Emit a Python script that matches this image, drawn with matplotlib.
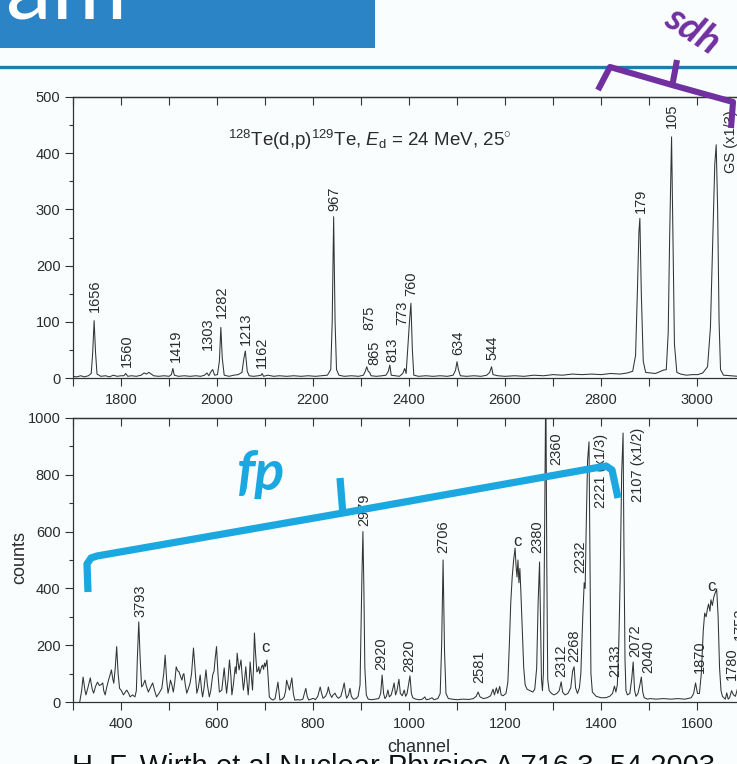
import matplotlib
matplotlib.use("Agg")
import matplotlib.pyplot as plt
from matplotlib.ticker import MultipleLocator, FixedLocator, NullFormatter
from matplotlib.lines import Line2D
from matplotlib.patches import Rectangle

plt.rcParams['font.family'] = ['Liberation Sans', 'DejaVu Sans']
plt.rcParams['mathtext.fontset'] = 'custom'
plt.rcParams['mathtext.rm'] = 'Liberation Sans'
plt.rcParams['mathtext.it'] = 'Liberation Sans:italic'
plt.rcParams['mathtext.bf'] = 'Liberation Sans:bold'

# ---------------- spectrum data: 128Te(d,p)129Te, high-channel part ----------------
top_channel = [1700, 1708, 1716, 1724, 1732, 1738, 1741, 1744, 1747, 1750, 1758, 1768, 1776, 1784,
               1792, 1800, 1806, 1810, 1814, 1822, 1832, 1842, 1848, 1853, 1858, 1863, 1868, 1878,
               1890, 1900, 1905, 1908, 1911, 1920, 1932, 1944, 1956, 1966, 1974, 1979, 1983, 1988,
               1991, 1995, 2001, 2005, 2008, 2011, 2015, 2025, 2035, 2044, 2052, 2056, 2059, 2063,
               2067, 2076, 2086, 2092, 2094, 2097, 2106, 2118, 2130, 2145, 2160, 2175, 2190, 2205,
               2218, 2230, 2237, 2240, 2243, 2246, 2249, 2254, 2265, 2280, 2295, 2305, 2309, 2312,
               2315, 2318, 2321, 2332, 2344, 2352, 2357, 2360, 2363, 2372, 2380, 2387, 2391, 2394,
               2398, 2401, 2404, 2407, 2410, 2420, 2435, 2450, 2465, 2480, 2492, 2497, 2500, 2503,
               2507, 2520, 2535, 2550, 2562, 2568, 2572, 2575, 2585, 2600, 2620, 2640, 2660, 2680,
               2700, 2720, 2740, 2760, 2780, 2800, 2820, 2840, 2855, 2866, 2872, 2876, 2879, 2881,
               2884, 2888, 2893, 2903, 2913, 2922, 2930, 2936, 2940, 2943, 2947, 2950, 2953, 2958,
               2966, 2978, 2990, 3002, 3012, 3022, 3028, 3033, 3037, 3040, 3043, 3046, 3049, 3055,
               3070, 3085, 3100]
top_counts = [3, 2, 4, 2, 4, 8, 45, 102, 45, 7, 3, 4, 2, 5,
              3, 4, 4, 8, 3, 4, 3, 5, 9, 7, 10, 7, 4, 3,
              4, 3, 6, 17, 5, 3, 4, 3, 4, 3, 5, 9, 4, 12,
              15, 5, 6, 30, 90, 35, 5, 3, 5, 6, 10, 35, 48, 12,
              4, 3, 4, 5, 8, 3, 5, 3, 4, 3, 4, 3, 4, 3,
              4, 5, 15, 100, 287, 100, 15, 5, 3, 4, 3, 5, 12, 20,
              12, 10, 4, 3, 4, 5, 12, 23, 5, 4, 3, 8, 17, 8,
              60, 100, 133, 50, 5, 3, 4, 3, 4, 3, 5, 14, 29, 15,
              4, 3, 4, 3, 5, 10, 20, 6, 4, 3, 4, 3, 5, 4,
              6, 5, 7, 6, 7, 6, 8, 7, 9, 12, 40, 160, 260, 284,
              150, 30, 10, 9, 8, 11, 14, 15, 80, 250, 429, 250, 60, 10,
              7, 5, 6, 6, 9, 20, 90, 250, 380, 415, 300, 100, 15, 5,
              4, 3, 4]

# level labels (keV) of the upper panel: channel, height of label foot
top_labels = ['1656', '1560', '1419', '1303', '1282', '1213', '1162', '967', '875', '865',
              '813', '773', '760', '634', '544', '179', '105', 'GS (x1/3)']
top_label_channel = [1746, 1812, 1915, 1981, 2010, 2060, 2094, 2244, 2317, 2327,
                     2365, 2385, 2404, 2502, 2573, 2883, 2948, 3071]
top_label_counts = [117, 20, 28, 50, 107, 59, 18, 298, 85, 23,
                    28, 94, 146, 41, 32, 293, 445, 365]

# ---------------- spectrum data: low-channel part ----------------
bottom_channel = [314, 318, 321, 325, 327, 331, 336, 340, 343, 347, 351, 355, 359, 362, 364, 367,
                  370, 374, 378, 380, 383, 385, 388, 391, 394, 397, 401, 405, 409, 412, 416, 419,
                  424, 429, 432, 434, 437, 440, 443, 446, 450, 453, 457, 461, 466, 470, 474, 479,
                  485, 489, 492, 495, 498, 501, 503, 506, 509, 512, 515, 518, 521, 524, 527, 529,
                  531, 534, 537, 540, 544, 547, 551, 554, 558, 561, 565, 568, 570, 573, 577, 580,
                  584, 587, 591, 594, 596, 599, 602, 605, 607, 610, 613, 615, 617, 620, 623, 626,
                  629, 631, 634, 638, 640, 642, 644, 646, 648, 650, 652, 655, 657, 660, 662, 665,
                  667, 669, 671, 674, 676, 678, 680, 683, 685, 687, 689, 691, 693, 695, 697, 699,
                  701, 704, 706, 709, 713, 717, 721, 724, 727, 730, 731, 736, 740, 743, 745, 748,
                  751, 753, 756, 759, 762, 768, 773, 779, 782, 785, 788, 791, 796, 801, 805, 810,
                  813, 815, 818, 821, 826, 830, 832, 835, 839, 842, 846, 849, 853, 858, 862, 865,
                  868, 870, 874, 877, 880, 884, 890, 894, 898, 900, 902, 904, 906, 908, 911, 915,
                  922, 930, 937, 941, 944, 947, 950, 953, 956, 959, 963, 966, 969, 972, 975, 979,
                  982, 986, 990, 993, 996, 999, 1002, 1005, 1008, 1014, 1022, 1028, 1033, 1036, 1042, 1048,
                  1052, 1060, 1065, 1068, 1071, 1074, 1077, 1082, 1090, 1100, 1112, 1125, 1134, 1140, 1144, 1148,
                  1155, 1163, 1170, 1175, 1178, 1182, 1185, 1189, 1192, 1196, 1202, 1206, 1209, 1212, 1215, 1218,
                  1221, 1223, 1225, 1227, 1229, 1231, 1233, 1236, 1239, 1242, 1246, 1252, 1258, 1262, 1266, 1269,
                  1272, 1274, 1276, 1278, 1280, 1283, 1285, 1287, 1289, 1292, 1297, 1302, 1308, 1313, 1317, 1320,
                  1325, 1331, 1337, 1341, 1344, 1347, 1351, 1355, 1358, 1362, 1365, 1367, 1369, 1372, 1375, 1377,
                  1379, 1382, 1390, 1400, 1410, 1418, 1424, 1428, 1431, 1434, 1437, 1440, 1443, 1446, 1448, 1450,
                  1452, 1455, 1460, 1464, 1467, 1470, 1473, 1477, 1481, 1484, 1487, 1490, 1494, 1497, 1502, 1515,
                  1530, 1545, 1560, 1575, 1588, 1593, 1597, 1601, 1605, 1609, 1613, 1616, 1619, 1622, 1624, 1627,
                  1629, 1632, 1635, 1638, 1641, 1644, 1647, 1650, 1653, 1656, 1659, 1662, 1665, 1668, 1672, 1676,
                  1680, 1684, 1688, 1692, 1696, 1700]
bottom_counts = [0, 40, 88, 40, 25, 50, 85, 45, 31, 55, 70, 58, 62, 67, 40, 25,
                 50, 77, 100, 113, 80, 66, 120, 195, 100, 48, 40, 25, 35, 42, 30, 18,
                 25, 18, 40, 150, 282, 150, 53, 60, 77, 55, 35, 50, 67, 40, 18, 30,
                 48, 100, 165, 80, 31, 55, 77, 60, 35, 70, 124, 110, 106, 90, 77, 95,
                 100, 60, 31, 45, 67, 100, 190, 120, 31, 50, 95, 40, 18, 50, 113, 60,
                 18, 40, 95, 110, 150, 195, 100, 35, 38, 42, 90, 120, 80, 31, 80, 148,
                 90, 25, 60, 124, 100, 172, 140, 113, 130, 148, 100, 42, 70, 124, 80, 25,
                 70, 141, 100, 42, 120, 243, 180, 106, 110, 124, 100, 113, 125, 130, 115, 137,
                 125, 148, 100, 18, 10, 7, 12, 40, 70, 20, 7, 10, 18, 40, 77, 60,
                 42, 60, 85, 30, 7, 8, 7, 10, 30, 48, 20, 7, 10, 13, 8, 20,
                 40, 53, 30, 13, 20, 35, 53, 30, 16, 25, 31, 20, 13, 20, 45, 67,
                 30, 13, 25, 48, 20, 10, 12, 20, 60, 250, 450, 600, 400, 120, 25, 10,
                 8, 10, 12, 30, 95, 30, 12, 20, 42, 18, 25, 45, 67, 25, 40, 80,
                 30, 22, 42, 20, 30, 60, 92, 30, 15, 10, 8, 10, 18, 8, 10, 15,
                 8, 12, 30, 200, 500, 180, 30, 12, 10, 8, 10, 9, 12, 20, 35, 18,
                 12, 15, 22, 45, 25, 50, 30, 55, 25, 22, 30, 70, 200, 350, 440, 500,
                 542, 480, 440, 500, 420, 470, 390, 260, 120, 60, 45, 40, 35, 45, 120, 350,
                 493, 280, 80, 40, 100, 700, 1150, 500, 80, 40, 30, 25, 30, 40, 71, 35,
                 25, 30, 50, 110, 124, 50, 30, 50, 100, 300, 420, 400, 600, 850, 916, 500,
                 100, 35, 20, 15, 15, 20, 30, 56, 35, 60, 200, 440, 800, 947, 500, 150,
                 40, 25, 30, 80, 141, 40, 20, 30, 60, 88, 35, 15, 12, 10, 12, 10,
                 12, 10, 12, 10, 15, 30, 67, 30, 30, 100, 250, 313, 300, 330, 345, 320,
                 360, 340, 370, 385, 398, 300, 120, 40, 20, 15, 10, 32, 10, 15, 40, 25,
                 20, 45, 60, 30, 25, 20]

bottom_labels = ['3793', 'c', '2979', '2920', '2820', '2706', '2581', 'c', '2380', '2360',
                 '2312', '2268', '2232', '2221 (x1/3)', '2133', '2107 (x1/2)', '2072', '2040',
                 '1870', 'c', '1780', '1753']
bottom_label_channel = [440, 700, 906, 942, 1000, 1071, 1146, 1225, 1267, 1306,
                        1317, 1344, 1356, 1400, 1429, 1477, 1471, 1499,
                        1606, 1631, 1673, 1690]
bottom_label_counts = [300, 165, 620, 113, 106, 524, 67, 540, 524, 834,
                       88, 141, 454, 683, 88, 704, 158, 102,
                       102, 380, 77, 220]
rotated_label = [lab != 'c' for lab in bottom_labels]

reaction_text = r'$^{128}$Te(d,p)$^{129}$Te, $E_{\rm d}$ = 24 MeV, 25$^{\circ}$'
citation = 'H. F. Wirth et al Nuclear Physics A 716 3, 54 2003'

# ---------------- figure ----------------
W, H = 737, 764
fig = plt.figure(figsize=(W / 100, H / 100), dpi=100, facecolor='#f9fdfd')


def fx(px):
    return px / W


def fy(py):
    return 1 - py / H


INK = '#2b2b2b'
LINE = '#333333'


def style_axes(ax, xlim, ylim, xmajor, ymajor, yminor):
    ax.set_facecolor('none')
    ax.set_xlim(*xlim)
    ax.set_ylim(*ylim)
    ax.xaxis.set_major_locator(FixedLocator(xmajor))
    ax.xaxis.set_minor_locator(MultipleLocator(100))
    ax.yaxis.set_major_locator(MultipleLocator(ymajor))
    ax.yaxis.set_minor_locator(MultipleLocator(yminor))
    for side in ('left', 'bottom', 'top'):
        ax.spines[side].set_color(LINE)
        ax.spines[side].set_linewidth(0.9)
    ax.spines['right'].set_visible(False)
    ax.tick_params(axis='both', which='both', direction='out', colors=LINE,
                   labelcolor=INK, labelsize=10.5, width=0.8)
    ax.tick_params(axis='x', which='major', length=6, pad=5)
    ax.tick_params(axis='x', which='minor', length=6)
    ax.tick_params(axis='y', which='major', length=6, pad=3)
    ax.tick_params(axis='y', which='minor', length=3)
    sec = ax.secondary_xaxis('top')
    sec.xaxis.set_major_locator(MultipleLocator(100))
    sec.xaxis.set_major_formatter(NullFormatter())
    sec.tick_params(direction='in', length=6, width=0.8, colors=LINE)
    sec.spines['top'].set_color(LINE)
    sec.spines['top'].set_linewidth(0.9)


# px per channel = 0.48 in both panels; axes run past the right edge of the canvas
left = fx(73)
width = (3100 - 1700) * 0.48 / W

ax_top = fig.add_axes([left, fy(378), width, (378 - 97) / H])
style_axes(ax_top, (1700, 3100), (0, 500), range(1800, 3001, 200), 100, 50)
ax_top.plot(top_channel, top_counts, color=LINE, lw=0.75)
for lab, c, y in zip(top_labels, top_label_channel, top_label_counts):
    ax_top.text(c, y, lab, rotation=90, ha='center', va='bottom', fontsize=10.5, color=INK)
ax_top.text((228 - 73) / (W * width), (378 - 140) / 281, reaction_text,
            transform=ax_top.transAxes, ha='left', va='center', fontsize=13.5, color=INK)

ax_bot = fig.add_axes([left, fy(702), width, (702 - 418) / H])
style_axes(ax_bot, (300, 1700), (0, 1000), range(400, 1601, 200), 200, 100)
ax_bot.plot(bottom_channel, bottom_counts, color=LINE, lw=0.75)
for lab, c, y, rot in zip(bottom_labels, bottom_label_channel, bottom_label_counts, rotated_label):
    ax_bot.text(c, y, lab, rotation=90 if rot else 0, ha='center', va='bottom',
                fontsize=10.5 if rot else 12, color=INK)

fig.text(fx(20), fy(558), 'counts', rotation=90, ha='center', va='center', fontsize=13, color=INK)
fig.text(fx(419), fy(747), 'channel', ha='center', va='center', fontsize=13, color=INK)
fig.text(fx(72), fy(753), citation, ha='left', va='top', fontsize=21, color='#111111')

# ---------------- slide decoration ----------------
fig.patches.append(Rectangle((0, fy(48)), fx(375), 48 / H, transform=fig.transFigure,
                             facecolor='#2a84c6', edgecolor='none', zorder=0))
fig.text(fx(6), fy(19), 'am', ha='left', va='baseline', fontsize=66, color='white',
         family=['Lato', 'DejaVu Sans'])
fig.lines.append(Line2D([0, 1], [fy(67), fy(67)], transform=fig.transFigure,
                        color='#1b7fa8', lw=2.4))

PURPLE = '#7030a0'
BLUE = '#1ba8e0'


def stroke(points, color, lw):
    xs = [fx(p[0]) for p in points]
    ys = [fy(p[1]) for p in points]
    fig.lines.append(Line2D(xs, ys, transform=fig.transFigure, color=color, lw=lw,
                            solid_joinstyle='round', solid_capstyle='butt', zorder=10))


stroke([(598, 90), (610, 67), (672, 85), (733, 102), (731, 128)], PURPLE, 4.4)
stroke([(672, 87), (677, 60)], PURPLE, 4.4)
fig.text(fx(693), fy(30), 'sdh', rotation=-33, ha='center', va='center', fontsize=28,
         color=PURPLE, weight='bold', style='italic', family=['Lato', 'DejaVu Sans'],
         rotation_mode='anchor')

stroke([(88, 592), (87, 564), (91, 558), (97, 556), (343, 513), (606, 466), (612, 470), (618, 498)],
       BLUE, 5.2)
stroke([(343, 515), (340, 478)], BLUE, 5.2)
fig.text(fx(261), fy(490), 'fp', ha='center', va='baseline', fontsize=40,
         color=BLUE, weight='bold', style='italic', family=['Lato', 'DejaVu Sans'])

fig.savefig('out.png', dpi=100, facecolor=fig.get_facecolor())
